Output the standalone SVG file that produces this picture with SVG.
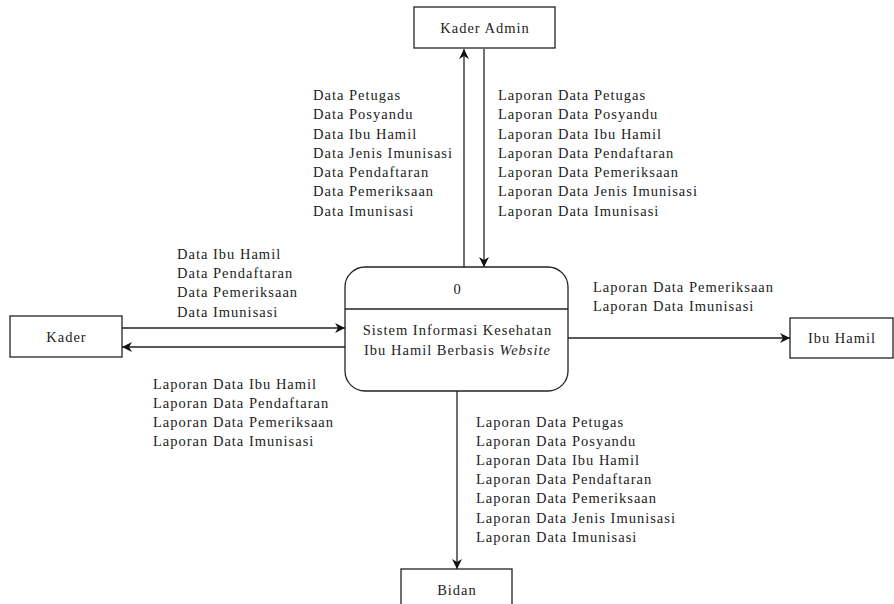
<svg xmlns="http://www.w3.org/2000/svg" width="894" height="604" viewBox="0 0 894 604">
<style>
text{font-family:"Liberation Serif","Times New Roman",serif;font-size:14.5px;letter-spacing:1px;fill:#222}
.box{fill:#fff;stroke:#222;stroke-width:1.3}
.c{stroke:#222;stroke-width:1.3;fill:none}
.m{text-anchor:middle}
</style>
<defs>
<marker id="a" viewBox="0 0 10 10" refX="10" refY="5" markerWidth="10" markerHeight="10" markerUnits="userSpaceOnUse" orient="auto">
<path d="M0,0 L10,5 L0,10 L3,5 z" fill="#111"/>
</marker>
</defs>
<g id="connectors">
<line class="c" x1="464" y1="267" x2="464" y2="49" marker-end="url(#a)"/>
<line class="c" x1="484" y1="49" x2="484" y2="267" marker-end="url(#a)"/>
<line class="c" x1="122" y1="328" x2="345" y2="328" marker-end="url(#a)"/>
<line class="c" x1="345" y1="347" x2="122" y2="347" marker-end="url(#a)"/>
<line class="c" x1="568" y1="338" x2="790" y2="338" marker-end="url(#a)"/>
<line class="c" x1="457" y1="391" x2="457" y2="569" marker-end="url(#a)"/>
<g id="lbl-admin-in">
<text x="313" y="100">Data Petugas</text>
<text x="313" y="119">Data Posyandu</text>
<text x="313" y="139">Data Ibu Hamil</text>
<text x="313" y="158">Data Jenis Imunisasi</text>
<text x="313" y="177">Data Pendaftaran</text>
<text x="313" y="196">Data Pemeriksaan</text>
<text x="313" y="216">Data Imunisasi</text>
</g>
<g id="lbl-admin-out">
<text x="498" y="100">Laporan Data Petugas</text>
<text x="498" y="119">Laporan Data Posyandu</text>
<text x="498" y="139">Laporan Data Ibu Hamil</text>
<text x="498" y="158">Laporan Data Pendaftaran</text>
<text x="498" y="177">Laporan Data Pemeriksaan</text>
<text x="498" y="196">Laporan Data Jenis Imunisasi</text>
<text x="498" y="216">Laporan Data Imunisasi</text>
</g>
<g id="lbl-kader-in">
<text x="177" y="259">Data Ibu Hamil</text>
<text x="177" y="278">Data Pendaftaran</text>
<text x="177" y="297">Data Pemeriksaan</text>
<text x="177" y="317">Data Imunisasi</text>
</g>
<g id="lbl-kader-out">
<text x="153" y="389">Laporan Data Ibu Hamil</text>
<text x="153" y="408">Laporan Data Pendaftaran</text>
<text x="153" y="427">Laporan Data Pemeriksaan</text>
<text x="153" y="446">Laporan Data Imunisasi</text>
</g>
<g id="lbl-ibu">
<text x="593" y="292">Laporan Data Pemeriksaan</text>
<text x="593" y="311">Laporan Data Imunisasi</text>
</g>
<g id="lbl-bidan">
<text x="476" y="427">Laporan Data Petugas</text>
<text x="476" y="446">Laporan Data Posyandu</text>
<text x="476" y="465">Laporan Data Ibu Hamil</text>
<text x="476" y="484">Laporan Data Pendaftaran</text>
<text x="476" y="503">Laporan Data Pemeriksaan</text>
<text x="476" y="523">Laporan Data Jenis Imunisasi</text>
<text x="476" y="542">Laporan Data Imunisasi</text>
</g>
</g>
<g id="kader-admin">
<rect class="box" x="414" y="7" width="141" height="41"/>
<text class="m" x="485" y="33">Kader Admin</text>
</g>
<g id="process">
<rect class="box" x="345" y="267" width="223" height="124" rx="20" ry="20"/>
<line class="c" x1="345" y1="309" x2="568" y2="309"/>
<text class="m" x="457.5" y="294">0</text>
<text class="m" x="457.5" y="335">Sistem Informasi Kesehatan</text>
<text class="m" x="457.5" y="355">Ibu Hamil Berbasis <tspan font-style="italic">Website</tspan></text>
</g>
<g id="kader">
<rect class="box" x="10" y="316" width="112" height="41"/>
<text class="m" x="66.5" y="342">Kader</text>
</g>
<g id="ibu-hamil">
<rect class="box" x="790" y="318" width="103" height="40"/>
<text class="m" x="842" y="343">Ibu Hamil</text>
</g>
<g id="bidan">
<rect class="box" x="401" y="569" width="111" height="45"/>
<text class="m" x="457" y="595">Bidan</text>
</g>
</svg>
